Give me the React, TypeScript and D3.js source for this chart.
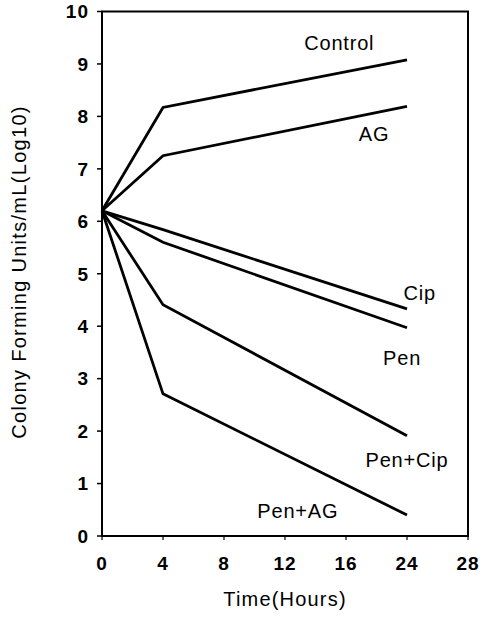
import React from "react";
import { scaleLinear, scalePoint, line } from "d3";

const timeTicks = ["0", "4", "8", "12", "16", "24", "28"];
const sampleTimes = ["0", "4", "24"];
const yTicks = [0, 1, 2, 3, 4, 5, 6, 7, 8, 9, 10];

const control = [6.2, 8.17, 9.08];
const ag = [6.2, 7.25, 8.19];
const cip = [6.2, 5.84, 4.33];
const pen = [6.2, 5.6, 3.97];
const penCip = [6.2, 4.41, 1.91];
const penAg = [6.2, 2.71, 0.4];

const seriesNames = ["Control", "AG", "Cip", "Pen", "Pen+Cip", "Pen+AG"];
const seriesValues = [control, ag, cip, pen, penCip, penAg];

// where each series label sits, in data units (time tick index, value)
const labelTimes = [3.89, 4.46, 5.21, 4.92, 5.0, 3.21];
const labelValues = [9.4, 7.67, 4.64, 3.4, 1.45, 0.48];

const font = "'Liberation Sans', Arial, Helvetica, sans-serif";

const App = () => {
  const width = 481;
  const height = 617;
  const left = 102;
  const right = 468;
  const top = 11.5;
  const bottom = 536;

  const xScale = scalePoint<string>().domain(timeTicks).range([left, right]);
  const xIdx = scaleLinear().domain([0, timeTicks.length - 1]).range([left, right]);
  const yScale = scaleLinear().domain([0, 10]).range([bottom, top]);

  const lineGen = line<number>()
    .x((d, i) => xScale(sampleTimes[i]) as number)
    .y((d) => yScale(d));

  return (
    <svg width={width} height={height} style={{ position: "absolute", left: 0, top: 0 }}>
      <rect x={0} y={0} width={width} height={height} fill="white" />
      <rect
        x={left}
        y={top}
        width={right - left}
        height={bottom - top}
        fill="none"
        stroke="black"
        strokeWidth={2}
      />
      {yTicks.map((t) => (
        <g key={t}>
          <line x1={left - 5} x2={left} y1={yScale(t)} y2={yScale(t)} stroke="black" strokeWidth={1.5} />
          <text
            x={89}
            y={yScale(t)}
            dy="0.36em"
            textAnchor="end"
            fontFamily={font}
            fontSize={19}
            fontWeight="bold"
            letterSpacing={1}
          >
            {t}
          </text>
        </g>
      ))}
      {timeTicks.map((t) => (
        <g key={t}>
          <line
            x1={xScale(t)}
            x2={xScale(t)}
            y1={bottom}
            y2={bottom + 4}
            stroke="black"
            strokeWidth={1.2}
          />
          <text
            x={xScale(t)}
            y={563}
            dy="0.36em"
            textAnchor="middle"
            fontFamily={font}
            fontSize={19}
            fontWeight="bold"
            letterSpacing={1}
          >
            {t}
          </text>
        </g>
      ))}
      {seriesValues.map((vals, i) => (
        <path key={i} d={lineGen(vals) || ""} fill="none" stroke="black" strokeWidth={2.8} />
      ))}
      {seriesNames.map((name, i) => (
        <text
          key={name}
          x={xIdx(labelTimes[i])}
          y={yScale(labelValues[i])}
          dy="0.36em"
          textAnchor="middle"
          fontFamily={font}
          fontSize={20}
          letterSpacing={0.8}
        >
          {name}
        </text>
      ))}
      <text
        x={285}
        y={606}
        textAnchor="middle"
        fontFamily={font}
        fontSize={20}
        letterSpacing={1.2}
      >
        Time(Hours)
      </text>
      <text
        transform={`translate(19, 272) rotate(-90)`}
        textAnchor="middle"
        dy="0.36em"
        fontFamily={font}
        fontSize={20}
        letterSpacing={1.3}
      >
        Colony Forming Units/mL(Log10)
      </text>
    </svg>
  );
};

export default App;
